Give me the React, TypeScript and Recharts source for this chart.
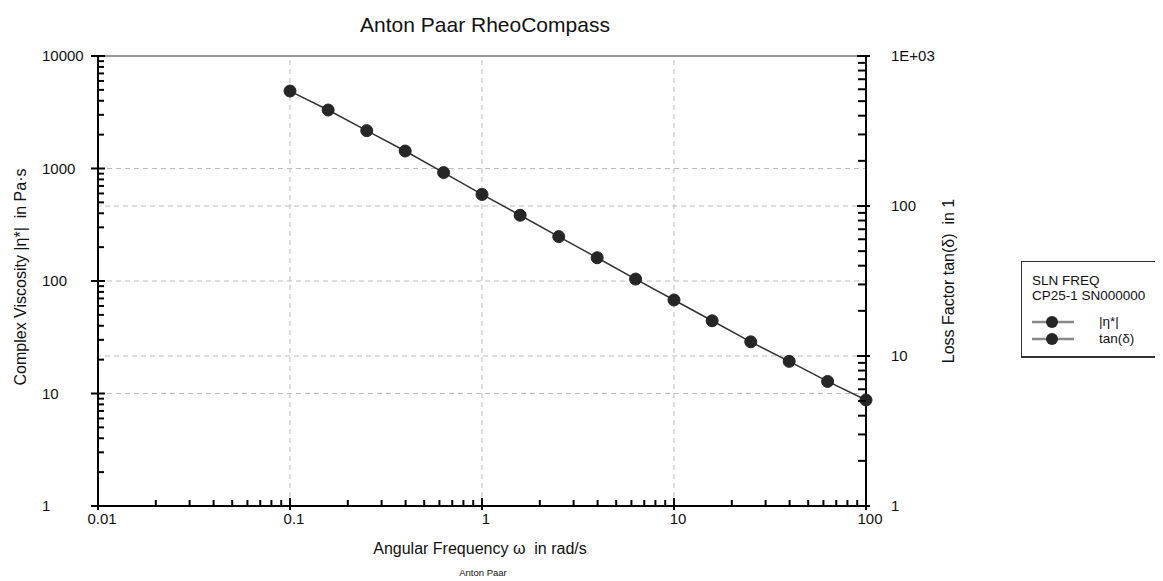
import React from 'react';
import { LineChart, Line, XAxis, YAxis, ReferenceLine, Label } from 'recharts';

// ---- data ----
const omega = [0.1, 0.158, 0.251, 0.398, 0.631, 1, 1.58, 2.51, 3.98, 6.31, 10, 15.8, 25.1, 39.8, 63.1, 100];
const etaStar = [4880, 3310, 2170, 1430, 920, 588, 384, 248, 161, 104, 67.8, 44.3, 28.8, 19.3, 12.8, 8.75];
const tanDelta: (number | null)[] = [null, null, null, null, null, null, null, null, null, null, null, null, null, null, null, null];

// ---- ticks ----
const xMajor = [0.01, 0.1, 1, 10, 100];
const xTickLabels = ['0.01', '0.1', '1', '10', '100'];
const leftMajor = [1, 10, 100, 1000, 10000];
const leftTickLabels = ['1', '10', '100', '1000', '10000'];
const rightMajor = [1, 10, 100, 1000];
const rightTickLabels = ['1', '10', '100', '1E+03'];
const minorMultipliers = [2, 3, 4, 5, 6, 7, 8, 9];

const gridX = [0.1, 1, 10];
const gridLeftY = [10, 100, 1000];
const gridRightY = [10, 100];

const withMinors = (majors: number[]) => {
  const out: number[] = [...majors];
  for (let i = 0; i < majors.length - 1; i++) {
    for (const m of minorMultipliers) out.push(majors[i] * m);
  }
  return out.sort((a, b) => a - b);
};
const xTicks = withMinors(xMajor);
const leftTicks = withMinors(leftMajor);
const rightTicks = withMinors(rightMajor);

const data = omega.map((w, i) => ({ omega: w, eta: etaStar[i], tan: tanDelta[i] }));

const FONT = '"Liberation Sans", Arial, sans-serif';
const TICK_FS = 15;
const majorIndex = (majors: number[], v: number) => majors.findIndex((m) => Math.abs(v - m) / m < 1e-9);

const XTick = (props: any) => {
  const { x, y, payload } = props;
  const idx = majorIndex(xMajor, payload.value);
  if (idx < 0) return <line x1={x} x2={x} y1={y - 6} y2={y} stroke="#000" strokeWidth={2} />;
  return (
    <g>
      <line x1={x} x2={x} y1={y - 8} y2={y + 4} stroke="#000" strokeWidth={2} />
      <text x={x + 4} y={y + 18} textAnchor="middle" fontSize={TICK_FS} fontFamily={FONT} fill="#111">
        {xTickLabels[idx]}
      </text>
    </g>
  );
};

const LeftTick = (props: any) => {
  const { x, y, payload } = props;
  const idx = majorIndex(leftMajor, payload.value);
  if (idx < 0) return <line x1={x} x2={x + 6} y1={y} y2={y} stroke="#000" strokeWidth={2} />;
  return (
    <g>
      <line x1={x - 7} x2={x + 7} y1={y} y2={y} stroke="#000" strokeWidth={2} />
      <text x={x - 56} y={y + 5} textAnchor="start" fontSize={TICK_FS} fontFamily={FONT} fill="#111">
        {leftTickLabels[idx]}
      </text>
    </g>
  );
};

const RightTick = (props: any) => {
  const { x, y, payload } = props;
  const idx = majorIndex(rightMajor, payload.value);
  if (idx < 0) return <line x1={x - 8} x2={x} y1={y} y2={y} stroke="#000" strokeWidth={2} />;
  return (
    <g>
      <line x1={x - 9} x2={x + 4} y1={y} y2={y} stroke="#000" strokeWidth={2} />
      <text x={x + 25} y={y + 5} textAnchor="start" fontSize={TICK_FS} fontFamily={FONT} fill="#111">
        {rightTickLabels[idx]}
      </text>
    </g>
  );
};

const LegendMarker = () => (
  <svg width={42} height={14} style={{ display: 'block' }}>
    <line x1={0} x2={42} y1={7} y2={7} stroke="#8a8a8a" strokeWidth={2.5} />
    <circle cx={20} cy={7} r={6} fill="#262626" />
  </svg>
);

export default function App() {
  return (
    <div style={{ position: 'relative', width: 1147, height: 573, fontFamily: FONT, background: '#fff' }}>
      <div
        style={{
          position: 'absolute',
          left: 0,
          width: 954,
          top: 7,
          textAlign: 'center',
          fontSize: 21,
          lineHeight: '20px',
          color: '#111',
        }}
      >
        Anton Paar RheoCompass
      </div>

      <LineChart width={1147} height={573} data={data} margin={{ top: 48, right: 189, bottom: 15, left: 0 }}>
        <XAxis
          dataKey="omega"
          type="number"
          scale="log"
          domain={[0.01, 100]}
          ticks={xTicks}
          interval={0}
          tick={<XTick />}
          tickLine={false}
          tickSize={0}
          tickMargin={0}
          axisLine={{ stroke: '#000', strokeWidth: 2 }}
          height={60}
        >
          <Label
            content={(p: any) => {
              const vb = p.viewBox || { x: 90, y: 498, width: 768, height: 60 };
              const cx = vb.x + vb.width / 2;
              return (
                <g>
                  <text x={cx - 2} y={vb.y + 48} textAnchor="middle" fontSize={16} fontFamily={FONT} fill="#111" style={{ whiteSpace: 'pre' }}>
                    {'Angular Frequency ω  in rad/s'}
                  </text>
                  <text x={cx + 1} y={vb.y + 70} textAnchor="middle" fontSize={9.5} fontFamily={FONT} fill="#111">
                    Anton Paar
                  </text>
                </g>
              );
            }}
          />
        </XAxis>
        <YAxis
          yAxisId="left"
          type="number"
          scale="log"
          domain={[1, 10000]}
          ticks={leftTicks}
          interval={0}
          tick={<LeftTick />}
          tickLine={false}
          tickSize={0}
          tickMargin={0}
          axisLine={{ stroke: '#000', strokeWidth: 2 }}
          width={90}
        >
          <Label
            content={(p: any) => {
              const vb = p.viewBox || { x: 0, y: 48, width: 90, height: 450 };
              const cy = vb.y + vb.height / 2 - 4;
              const cx = 12;
              return (
                <text
                  x={cx}
                  y={cy}
                  transform={`rotate(-90 ${cx} ${cy})`}
                  textAnchor="middle"
                  dominantBaseline="central"
                  fontSize={16}
                  fontFamily={FONT}
                  fill="#111"
                  style={{ whiteSpace: 'pre' }}
                >
                  {'Complex Viscosity |η*|  in Pa·s'}
                </text>
              );
            }}
          />
        </YAxis>
        <YAxis
          yAxisId="right"
          orientation="right"
          type="number"
          scale="log"
          domain={[1, 1000]}
          allowDataOverflow
          ticks={rightTicks}
          interval={0}
          tick={<RightTick />}
          tickLine={false}
          tickSize={0}
          tickMargin={0}
          axisLine={{ stroke: '#000', strokeWidth: 2 }}
          width={100}
        >
          <Label
            content={(p: any) => {
              const vb = p.viewBox || { x: 858, y: 48, width: 100, height: 450 };
              const cy = vb.y + vb.height / 2;
              const cx = vb.x + 82;
              return (
                <text
                  x={cx}
                  y={cy}
                  transform={`rotate(-90 ${cx} ${cy})`}
                  textAnchor="middle"
                  dominantBaseline="central"
                  fontSize={16}
                  fontFamily={FONT}
                  fill="#111"
                  style={{ whiteSpace: 'pre' }}
                >
                  {'Loss Factor tan(δ)  in 1'}
                </text>
              );
            }}
          />
        </YAxis>

        {gridX.map((v) => (
          <ReferenceLine key={`gx${v}`} yAxisId="left" x={v} stroke="#bdbdbd" strokeDasharray="5 4" />
        ))}
        {gridLeftY.map((v) => (
          <ReferenceLine key={`gl${v}`} yAxisId="left" y={v} stroke="#bdbdbd" strokeDasharray="5 4" />
        ))}
        {gridRightY.map((v) => (
          <ReferenceLine key={`gr${v}`} yAxisId="right" y={v} stroke="#bdbdbd" strokeDasharray="5 4" />
        ))}
        <ReferenceLine yAxisId="left" y={10000} stroke="#333" strokeWidth={1} />

        <Line
          yAxisId="right"
          dataKey="tan"
          name="tan(δ)"
          stroke="#333"
          strokeWidth={1.5}
          dot={{ r: 6, fill: '#262626', stroke: '#262626' }}
          isAnimationActive={false}
          connectNulls={false}
        />
        <Line
          yAxisId="left"
          dataKey="eta"
          name="|η*|"
          stroke="#333"
          strokeWidth={1.5}
          dot={{ r: 6, fill: '#262626', stroke: '#262626', strokeWidth: 1 }}
          isAnimationActive={false}
        />
      </LineChart>

      <div
        style={{
          position: 'absolute',
          left: 1013,
          top: 253,
          width: 140,
          height: 97,
          borderLeft: '1px solid #333',
          borderTop: '1px solid #333',
          borderRight: '1px solid #333',
          borderBottom: '2px solid #333',
          boxSizing: 'border-box',
          fontSize: 13.5,
          color: '#111',
          paddingLeft: 10,
          paddingTop: 11,
        }}
      >
        <div style={{ lineHeight: '15px' }}>SLN FREQ</div>
        <div style={{ lineHeight: '15px' }}>CP25-1 SN000000</div>
        <div style={{ display: 'flex', alignItems: 'center', height: 17, marginTop: 10 }}>
          <LegendMarker />
          <span style={{ marginLeft: 25 }}>|η*|</span>
        </div>
        <div style={{ display: 'flex', alignItems: 'center', height: 17 }}>
          <LegendMarker />
          <span style={{ marginLeft: 25 }}>tan(δ)</span>
        </div>
      </div>
    </div>
  );
}
